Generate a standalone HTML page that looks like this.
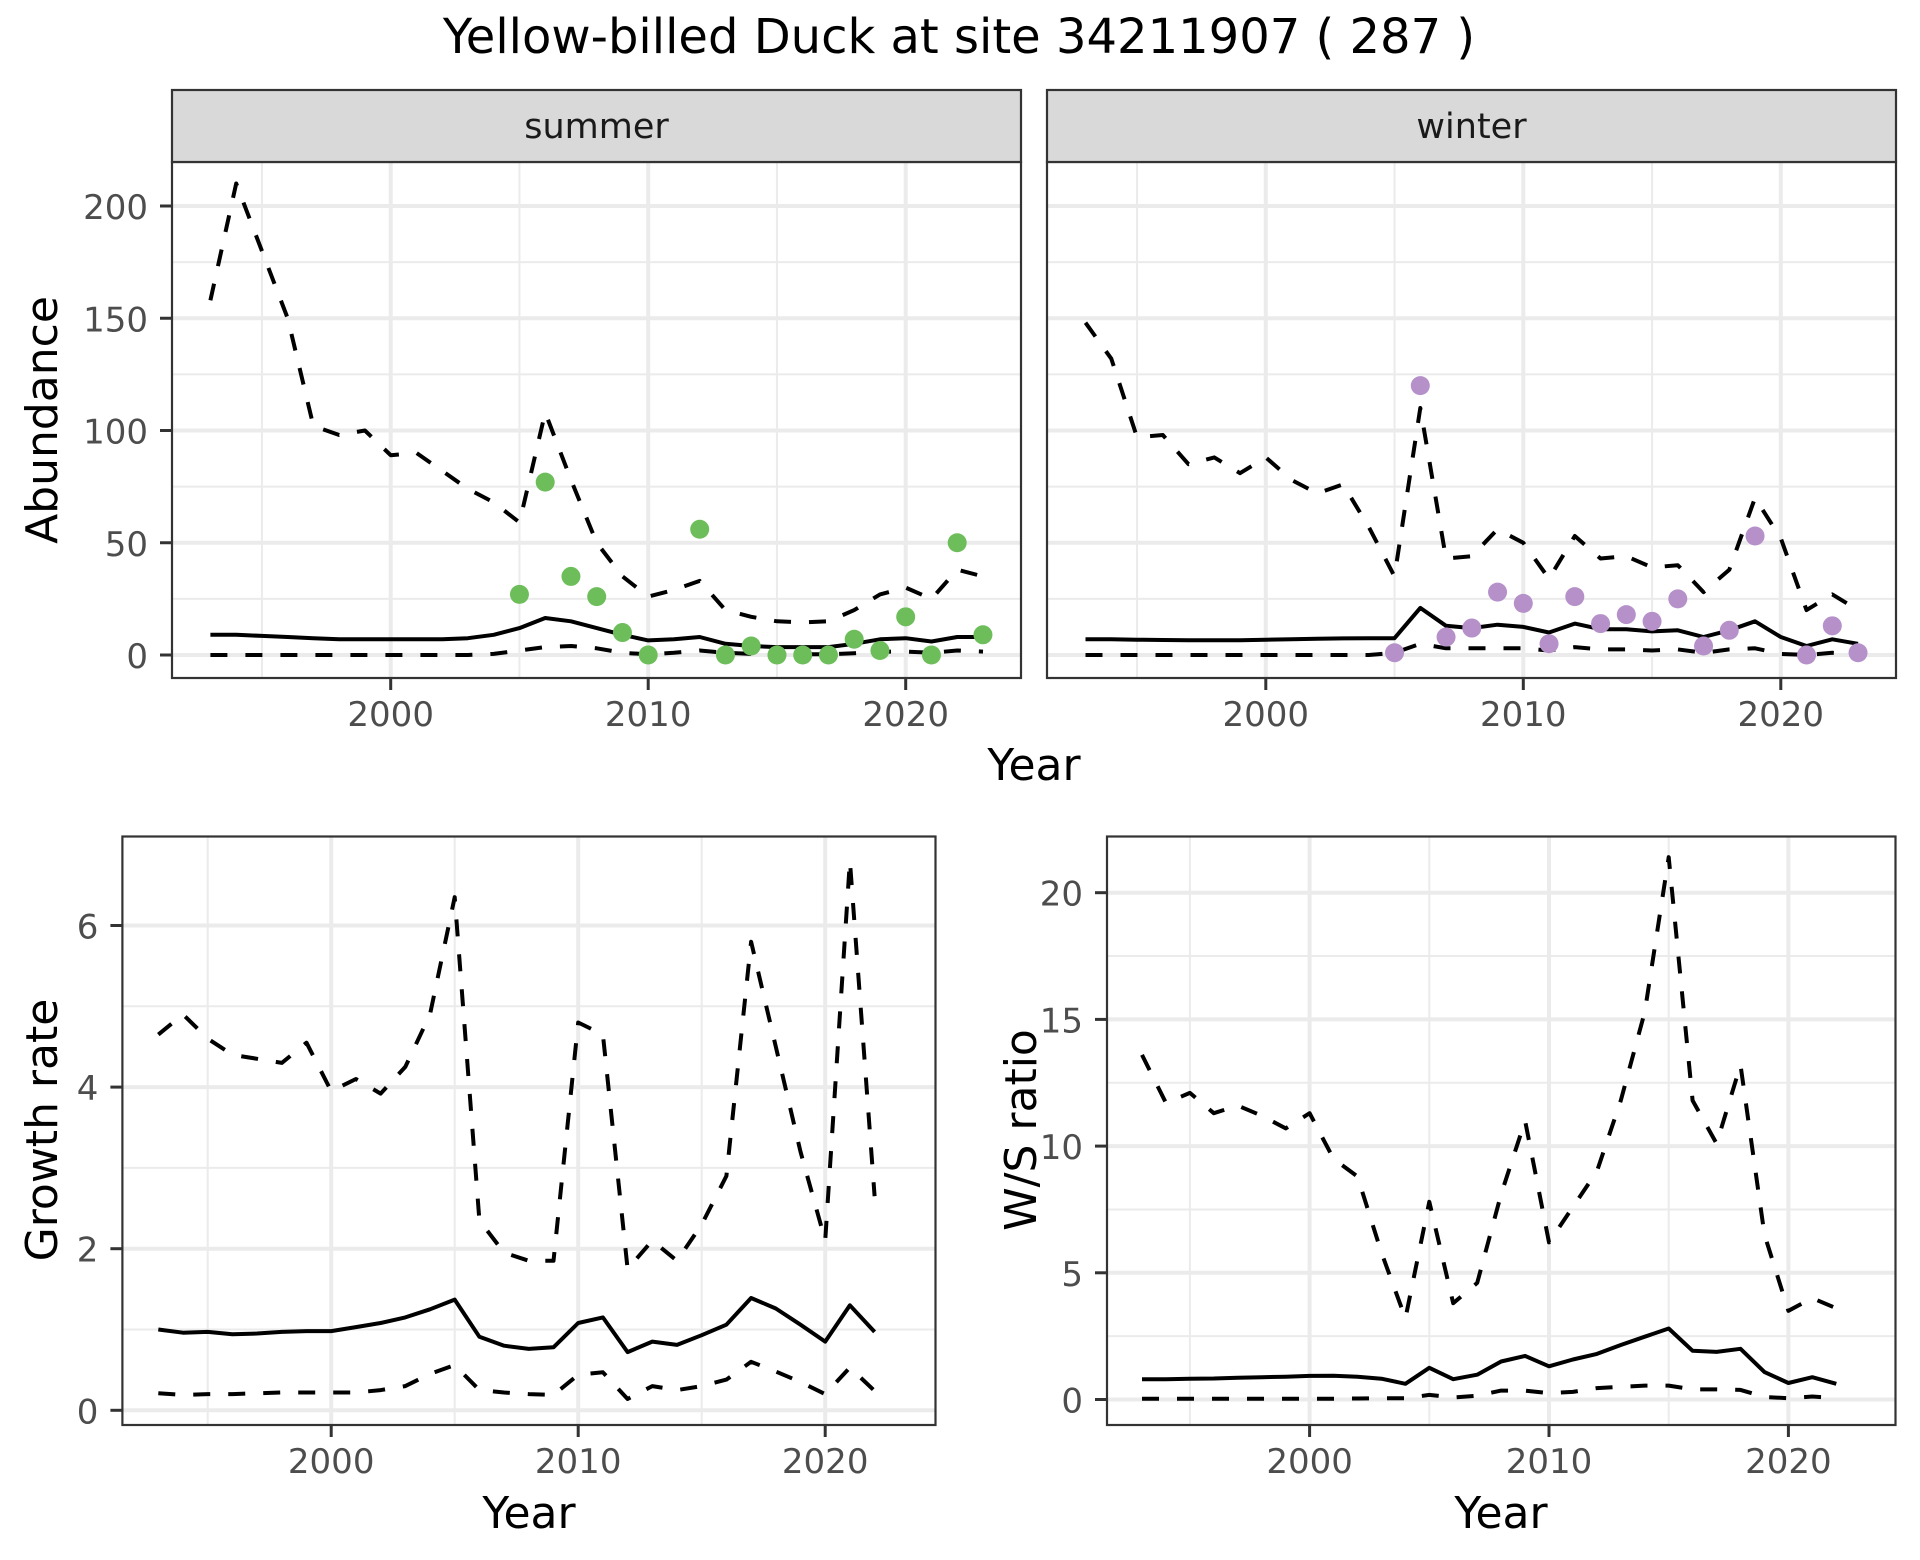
<!DOCTYPE html>
<html><head><meta charset="utf-8"><style>
html,body{margin:0;padding:0;background:#fff;}
svg{display:block;font-family:"DejaVu Sans","Liberation Sans",sans-serif;}
</style></head><body>
<svg id="chart" width="1920" height="1560" viewBox="0 0 1920 1560" xmlns="http://www.w3.org/2000/svg">
<rect width="1920" height="1560" fill="#fff"/>
<text x="959" y="53" font-size="48" text-anchor="middle" fill="#000">Yellow-billed Duck at site 34211907 ( 287 )</text>
</svg>
<script>
// ---- data ----
const yearsA = [1993,1994,1995,1996,1997,1998,1999,2000,2001,2002,2003,2004,2005,2006,2007,2008,2009,2010,2011,2012,2013,2014,2015,2016,2017,2018,2019,2020,2021,2022,2023];
const summerMean = [9,9,8.5,8,7.5,7,7,7,7,7,7.5,9,12,16.5,15,12,9,6.5,7,8,5,4,3.5,3.5,3.5,5,7,7.5,6,8,8];
const summerUpper = [158,210,180,150,102,98,100,89,90,82,74,68,59,108,78,50,35,26,29,33,20,17,15,14.5,15,20,27,30,25,38,35];
const summerLower = [0,0,0,0,0,0,0,0,0,0,0,0.5,2,3.5,4,3,1,0.3,1,2,1,0.5,0.3,0.3,0.3,0.8,1.5,1.5,1,2,1.5];
const summerObsYears = [2005,2006,2007,2008,2009,2010,2012,2013,2014,2015,2016,2017,2018,2019,2020,2021,2022,2023];
const summerObs = [27,77,35,26,10,0,56,0,4,0,0,0,7,2,17,0,50,9];
const winterMean = [7,7,6.8,6.7,6.6,6.6,6.6,6.8,7,7.2,7.4,7.5,7.5,21,13,12,13.5,12.5,10,14,11.5,11.5,10.5,11,8,11,15,8,4,7,5];
const winterUpper = [148,132,97,98,85,88,81,88,78,72,76,57,35,110,43,44,56,50,34,53,43,44,39,40,28,38,70,52,20,27,20];
const winterLower = [0,0,0,0,0,0,0,0,0,0,0,0,1,5,3,3,3,3,2,3.5,2.5,2.5,2,2.5,1,2.5,3,0.5,0,1,0.5];
const winterObsYears = [2005,2006,2007,2008,2009,2010,2011,2012,2013,2014,2015,2016,2017,2018,2019,2021,2022,2023];
const winterObs = [1,120,8,12,28,23,5,26,14,18,15,25,4,11,53,0,13,1];
const yearsB = [1993,1994,1995,1996,1997,1998,1999,2000,2001,2002,2003,2004,2005,2006,2007,2008,2009,2010,2011,2012,2013,2014,2015,2016,2017,2018,2019,2020,2021,2022];
const growthMean = [1.0,0.96,0.97,0.94,0.95,0.97,0.98,0.98,1.03,1.08,1.15,1.25,1.37,0.91,0.8,0.76,0.78,1.08,1.15,0.72,0.85,0.81,0.93,1.06,1.39,1.26,1.06,0.85,1.3,0.97];
const growthUpper = [4.65,4.9,4.6,4.4,4.35,4.3,4.55,3.95,4.1,3.92,4.25,4.9,6.35,2.35,1.95,1.85,1.85,4.8,4.65,1.75,2.1,1.85,2.3,2.9,5.8,4.5,3.2,2.1,6.8,2.65];
const growthLower = [0.21,0.19,0.2,0.2,0.21,0.22,0.22,0.22,0.22,0.25,0.3,0.45,0.56,0.25,0.22,0.2,0.19,0.44,0.47,0.14,0.3,0.25,0.3,0.38,0.6,0.48,0.35,0.2,0.53,0.24];
const ratioMean = [0.8,0.8,0.82,0.83,0.86,0.88,0.9,0.93,0.94,0.9,0.82,0.62,1.25,0.8,0.98,1.5,1.72,1.31,1.58,1.8,2.15,2.48,2.8,1.92,1.88,2.0,1.08,0.65,0.88,0.62];
const ratioUpper = [13.6,11.7,12.1,11.3,11.6,11.2,10.7,11.3,9.5,8.8,5.8,3.2,7.8,3.8,4.6,8.1,11.0,6.2,7.6,9.0,11.8,15.3,21.4,11.8,10.1,13.2,6.5,3.5,4.0,3.6];
const ratioLower = [0.03,0.03,0.03,0.03,0.03,0.03,0.03,0.03,0.03,0.04,0.05,0.05,0.18,0.08,0.15,0.35,0.35,0.25,0.3,0.45,0.5,0.55,0.55,0.4,0.4,0.38,0.1,0.05,0.12,0.05];
const abundanceTicks = [0,50,100,150,200];
const growthTicks = [0,2,4,6];
const ratioTicks = [0,5,10,15,20];
const yearTicks = [2000,2010,2020];

const NS = 'http://www.w3.org/2000/svg';
const svg = document.getElementById('chart');
function mk(tag, attrs, parent){
  const e = document.createElementNS(NS, tag);
  for (const k in attrs) e.setAttribute(k, attrs[k]);
  (parent||svg).appendChild(e);
  return e;
}
function panel(cfg){
  const g = mk('g', {});
  
  
  const sx = v => cfg.x0 + (v - 2000) * cfg.xu;
  const sy = v => cfg.y0 - v * cfg.yu;
  cfg.yMinor.forEach(v => { const l = mk('line', {x1:cfg.L, x2:cfg.R, y1:sy(v), y2:sy(v), stroke:'#EBEBEB', 'stroke-width':2}, g);
      });
  [1995,2005,2015].forEach(v => { const l = mk('line', {x1:sx(v), x2:sx(v), y1:cfg.T, y2:cfg.B, stroke:'#EBEBEB', 'stroke-width':2}, g);
      });
  cfg.yTicks.forEach(v => { const l = mk('line', {x1:cfg.L, x2:cfg.R, y1:sy(v), y2:sy(v), stroke:'#EBEBEB', 'stroke-width':4}, g);
      });
  yearTicks.forEach(v => { const l = mk('line', {x1:sx(v), x2:sx(v), y1:cfg.T, y2:cfg.B, stroke:'#EBEBEB', 'stroke-width':4}, g);
      });
  const path = (ys, vals, dash, nm) => {
    const d = vals.map((v,i) => (i?'L':'M') + sx(ys[i]).toFixed(1) + ',' + sy(v).toFixed(1)).join(' ');
    const p = mk('path', {d:d, fill:'none', stroke:'#000', 'stroke-width':4, 'stroke-dasharray': dash ? '17,18' : 'none', 'stroke-linejoin':'round'}, g);
    
    
  };
  path(cfg.years, cfg.upper, true, 'upper-bound-line');
  path(cfg.years, cfg.lower, true, 'lower-bound-line');
  path(cfg.years, cfg.mean, false, 'mean-line');
  if (cfg.obs) cfg.obs.forEach((v,i) => {
    const c = mk('circle', {cx:sx(cfg.obsYears[i]), cy:sy(v), r:9.5, fill:cfg.color}, g);
    
    
  });
  const b = mk('rect', {x:cfg.L, y:cfg.T, width:cfg.R-cfg.L, height:cfg.B-cfg.T, fill:'none', stroke:'#333', 'stroke-width':2.2}, g);
  
  
  if (cfg.showY) cfg.yTicks.forEach(v => {
    mk('line', {x1:cfg.L-12, x2:cfg.L, y1:sy(v), y2:sy(v), stroke:'#333', 'stroke-width':3}, g);
    const t = mk('text', {x:cfg.L-24, y:sy(v)+13, 'font-size':34, 'text-anchor':'end', fill:'#4D4D4D'}, g);
    t.textContent = v;
    
    
  });
  yearTicks.forEach(v => {
    mk('line', {x1:sx(v), x2:sx(v), y1:cfg.B, y2:cfg.B+12, stroke:'#333', 'stroke-width':3}, g);
    const t = mk('text', {x:sx(v), y:cfg.B+48, 'font-size':34, 'text-anchor':'middle', fill:'#4D4D4D'}, g);
    t.textContent = v;
    
    
  });
  if (cfg.strip) {
    const s = mk('rect', {x:cfg.L, y:90, width:cfg.R-cfg.L, height:72, fill:'#D9D9D9', stroke:'#333', 'stroke-width':2.2}, g);
    
    
    const t = mk('text', {x:(cfg.L+cfg.R)/2, y:138, 'font-size':35, 'text-anchor':'middle', fill:'#1A1A1A'}, g);
    t.textContent = cfg.strip;
    
    
  }
}
panel({name:'summer-panel', L:172, R:1021, T:162, B:678, x0:390.7, xu:25.75, y0:655, yu:2.245, years:yearsA, mean:summerMean, upper:summerUpper, lower:summerLower, obs:summerObs, obsYears:summerObsYears, color:'#6DBE5A', yTicks:abundanceTicks, yMinor:[25,75,125,175], showY:true, strip:'summer'});
panel({name:'winter-panel', L:1047, R:1896, T:162, B:678, x0:1265.8, xu:25.75, y0:655, yu:2.245, years:yearsA, mean:winterMean, upper:winterUpper, lower:winterLower, obs:winterObs, obsYears:winterObsYears, color:'#B590C9', yTicks:abundanceTicks, yMinor:[25,75,125,175], showY:false, strip:'winter'});
panel({name:'growth-rate-panel', L:122.4, R:935.5, T:836.5, B:1425, x0:331.2, xu:24.7, y0:1410.3, yu:80.8, years:yearsB, mean:growthMean, upper:growthUpper, lower:growthLower, yTicks:growthTicks, yMinor:[1,3,5], showY:true});
panel({name:'ws-ratio-panel', L:1107, R:1895.5, T:836.5, B:1425, x0:1309.6, xu:23.94, y0:1399.5, yu:25.34, years:yearsB, mean:ratioMean, upper:ratioUpper, lower:ratioLower, yTicks:ratioTicks, yMinor:[2.5,7.5,12.5,17.5], showY:true});

function label(txt, x, y, rot, nm){
  const t = mk('text', {x:x, y:y, 'font-size':44, 'text-anchor':'middle', fill:'#000'});
  if (rot) t.setAttribute('transform', 'rotate(-90 ' + x + ' ' + y + ')');
  t.textContent = txt;
  
  
}
label('Year', 1034, 780, false, 'x-axis-title-top');
label('Abundance', 57, 420, true, 'y-axis-title-abundance');
label('Year', 529, 1528, false, 'x-axis-title-growth');
label('Growth rate', 57, 1130, true, 'y-axis-title-growth');
label('Year', 1501, 1528, false, 'x-axis-title-ratio');
label('W/S ratio', 1036, 1130, true, 'y-axis-title-ratio');
</script>
</body></html>
